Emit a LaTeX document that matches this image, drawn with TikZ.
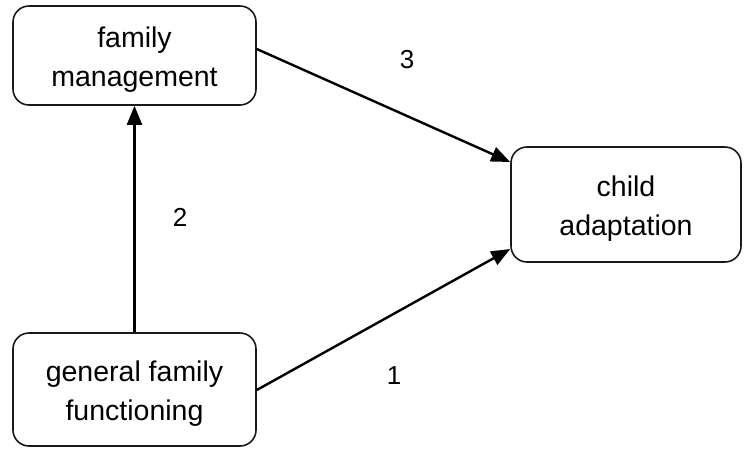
\documentclass[tikz,border=0pt]{standalone}
\usepackage{fontspec}
\setmainfont{Liberation Sans}
\usetikzlibrary{arrows.meta}
\begin{document}
\begin{tikzpicture}[x=1pt,y=-1pt,
  box/.style={draw=black!90, line width=1.6pt, rounded corners=16pt, inner sep=0pt},
  boxtext/.style={label={[align=center, font=\fontsize{28.5}{39}\selectfont, yshift=-4pt]center:{#1}}},
  conn/.style={line width=2.4pt, -{Triangle[length=19pt,width=15pt]}},
  lbl/.style={font=\fontsize{26}{30}\selectfont}]
\useasboundingbox (0,0) rectangle (744,448);
\node[box, minimum width=243pt, minimum height=99pt, boxtext={family\\management}] (fm) at (134.5,55.5) {};
\node[box, minimum width=243pt, minimum height=113pt, boxtext={general family\\functioning}] (gff) at (134.5,389.5) {};
\node[box, minimum width=230pt, minimum height=115pt, boxtext={child\\adaptation}] (ca) at (626,204.5) {};
\draw[conn] (gff.north) -- (fm.south);
\draw[conn] ([yshift=6.5pt]fm.east) -- ([yshift=42.5pt]ca.west);
\draw[conn] ([yshift=-0.5pt]gff.east) -- ([yshift=-44.5pt]ca.west);
\node[lbl] (l2) at (180,217) {2};
\node[lbl] (l3) at (407,60) {3};
\node[lbl] (l1) at (394,376) {1};
\end{tikzpicture}
\end{document}
